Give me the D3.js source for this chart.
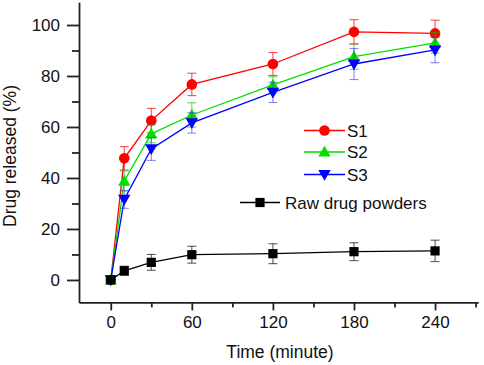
<!DOCTYPE html>
<html>
<head>
<meta charset="utf-8">
<script src="https://cdn.jsdelivr.net/npm/d3@7"></script>
<style>
  body { margin: 0; background: #fff; }
  svg { display: block; font-family: "Liberation Sans", Arial, sans-serif; }
</style>
</head>
<body>
<div id="chart"></div>
<script>
// data
const times = [0, 10, 30, 60, 120, 180, 240];
const s1 = [0, 47.7, 62.5, 76.7, 84.7, 97.3, 96.7];
const s1Err = [0, 4.6, 4.8, 4.4, 4.5, 4.8, 5.2];
const s2 = [0, 38.8, 57.3, 64.7, 76.5, 87.6, 93.0];
const s2Err = [0, 4.0, 3.5, 4.8, 3.2, 5.0, 4.0];
const s3 = [0, 31.6, 51.4, 61.6, 73.6, 84.7, 90.2];
const s3Err = [0, 3.5, 4.5, 4.0, 4.0, 6.1, 5.0];
const raw = [0, 3.6, 6.9, 9.9, 10.3, 11.1, 11.4];
const rawErr = [0, 1.8, 3.1, 3.3, 3.9, 3.5, 4.2];

const xTicks = [0, 60, 120, 180, 240];
const xMinor = [30, 90, 150, 210, 270];
const yTicks = [0, 20, 40, 60, 80, 100];
const yMinor = [10, 30, 50, 70, 90];

const series = [
  { name: "S1", values: s1, err: s1Err, color: "#ff0000", errColor: "rgba(255,0,0,0.7)", shape: "circle" },
  { name: "S2", values: s2, err: s2Err, color: "#00e000", errColor: "rgba(0,190,0,0.6)", shape: "up" },
  { name: "S3", values: s3, err: s3Err, color: "#0000ff", errColor: "rgba(60,60,220,0.6)", shape: "down" },
  { name: "Raw drug powders", values: raw, err: rawErr, color: "#000000", errColor: "rgba(40,40,40,0.75)", shape: "square" }
];

const width = 484, height = 365;
const svg = d3.select("#chart").append("svg")
  .attr("width", width)
  .attr("height", height);

const x = d3.scaleLinear().domain([-23.5, 272]).range([79, 478.3]);
const y = d3.scaleLinear().domain([-8.8, 108.9]).range([302.4, 2.3]);

// symbols
function marker(g, shape, color) {
  if (shape === "circle") {
    g.append("circle").attr("r", 5.3).attr("fill", color);
  } else if (shape === "square") {
    g.append("rect").attr("x", -4.6).attr("y", -4.6).attr("width", 9.2).attr("height", 9.2).attr("fill", color);
  } else if (shape === "up") {
    g.append("path").attr("d", "M0,-6.2L6.2,4.6L-6.2,4.6Z").attr("fill", color);
  } else {
    g.append("path").attr("d", "M0,6.2L6.2,-4.6L-6.2,-4.6Z").attr("fill", color);
  }
}

// axes
const axisColor = "#222";
const yAxis = svg.append("g").attr("transform", `translate(${x.range()[0]},0)`)
  .call(d3.axisLeft(y).tickValues(yTicks).tickSize(12).tickPadding(7).tickSizeOuter(0));
yAxis.selectAll(".tick text").style("font-size", "17px").attr("fill", "#111");
svg.append("g").attr("transform", `translate(${x.range()[0]},0)`)
  .call(d3.axisLeft(y).tickValues(yMinor).tickSize(7).tickFormat("").tickSizeOuter(0))
  .select(".domain").remove();

const xAxis = svg.append("g").attr("transform", `translate(0,${y.range()[0]})`)
  .call(d3.axisBottom(x).tickValues(xTicks).tickSize(8).tickPadding(6).tickSizeOuter(0));
xAxis.selectAll(".tick text").style("font-size", "17px").attr("fill", "#111");
svg.append("g").attr("transform", `translate(0,${y.range()[0]})`)
  .call(d3.axisBottom(x).tickValues(xMinor).tickSize(5).tickFormat("").tickSizeOuter(0))
  .select(".domain").remove();

svg.selectAll(".domain, .tick line").attr("stroke", axisColor).attr("stroke-width", 1.8);

svg.append("text")
  .attr("x", 280).attr("y", 358)
  .attr("text-anchor", "middle")
  .style("font-size", "17.5px")
  .attr("fill", "#111")
  .text("Time (minute)");

svg.append("text")
  .attr("transform", "translate(16,156) rotate(-90)")
  .attr("text-anchor", "middle")
  .style("font-size", "17.5px")
  .attr("fill", "#111")
  .text("Drug released (%)");

// series
const line = d3.line().x((d, i) => x(times[i])).y(d => y(d));

series.forEach(s => {
  const g = svg.append("g");
  // error bars
  s.values.forEach((v, i) => {
    if (!s.err[i]) return;
    const cx = x(times[i]);
    const eb = g.append("g").attr("stroke", s.errColor).attr("stroke-width", 1.1);
    eb.append("line").attr("x1", cx).attr("x2", cx).attr("y1", y(v - s.err[i])).attr("y2", y(v + s.err[i]));
    eb.append("line").attr("x1", cx - 4.5).attr("x2", cx + 4.5).attr("y1", y(v + s.err[i])).attr("y2", y(v + s.err[i]));
    eb.append("line").attr("x1", cx - 4.5).attr("x2", cx + 4.5).attr("y1", y(v - s.err[i])).attr("y2", y(v - s.err[i]));
  });
  g.append("path")
    .attr("d", line(s.values))
    .attr("fill", "none")
    .attr("stroke", s.color)
    .attr("stroke-width", 1.3);
  s.values.forEach((v, i) => {
    marker(g.append("g").attr("transform", `translate(${x(times[i])},${y(v)})`), s.shape, s.color);
  });
});

// legend
const legendRows = [
  { s: series[0], y: 130.5, x1: 304, x2: 345, tx: 347 },
  { s: series[1], y: 152, x1: 304, x2: 345, tx: 347 },
  { s: series[2], y: 174.5, x1: 304, x2: 345, tx: 347 },
  { s: series[3], y: 202.5, x1: 240, x2: 280, tx: 285 }
];
legendRows.forEach(r => {
  const g = svg.append("g");
  g.append("line").attr("x1", r.x1).attr("x2", r.x2).attr("y1", r.y).attr("y2", r.y)
    .attr("stroke", r.s.color).attr("stroke-width", 1.3);
  marker(g.append("g").attr("transform", `translate(${(r.x1 + r.x2) / 2},${r.y})`), r.s.shape, r.s.color);
  g.append("text").attr("x", r.tx).attr("y", r.y + 6)
    .style("font-size", "17px").attr("fill", "#111")
    .text(r.s.name);
});
</script>
</body>
</html>
